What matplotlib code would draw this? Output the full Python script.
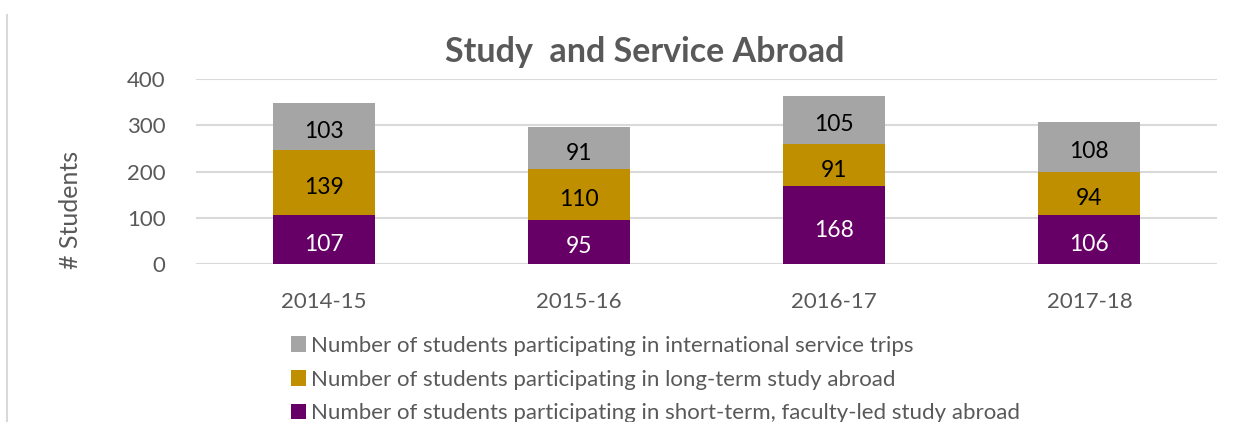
import numpy as np
import matplotlib.pyplot as plt
from matplotlib.lines import Line2D

plt.rcParams['font.family'] = ['Lato', 'DejaVu Sans']

years = ["2014-15", "2015-16", "2016-17", "2017-18"]
short_term = [107, 95, 168, 106]
long_term = [139, 110, 91, 94]
service = [103, 91, 105, 108]

lbl_short = "Number of students participating in short-term, faculty-led study abroad"
lbl_long = "Number of students participating in long-term study abroad"
lbl_serv = "Number of students participating in international service trips"

c_short = "#660066"
c_long = "#BF8F00"
c_serv = "#A5A5A5"
txt = "#595959"

fig = plt.figure(figsize=(12.53, 4.22), dpi=100)
ax = fig.add_axes([0.1564, 0.3744, 0.8149, 0.4384])

x = np.arange(len(years))
w = 0.40
b1 = ax.bar(x, short_term, w, color=c_short, label=lbl_short, zorder=3)
b2 = ax.bar(x, long_term, w, bottom=short_term, color=c_long, label=lbl_long, zorder=3)
bot3 = np.array(short_term) + np.array(long_term)
b3 = ax.bar(x, service, w, bottom=bot3, color=c_serv, label=lbl_serv, zorder=3)

labels = []
labels += ax.bar_label(b1, label_type='center', color='white', fontsize=16.5)
labels += ax.bar_label(b2, label_type='center', color='black', fontsize=16.5)
labels += ax.bar_label(b3, label_type='center', color='black', fontsize=16.5)
for t in labels:
    t.xyann = (0, -3.5)   # excel puts them a touch lower

ax.set_xlim(-0.5, 3.5)
ax.set_ylim(0, 400)
ax.set_yticks([0, 100, 200, 300, 400])
ax.set_xticks(x)
ax.set_xticklabels(years)
ax.tick_params(axis='both', length=0, labelsize=16, colors=txt)
ax.tick_params(axis='x', pad=20)
ax.tick_params(axis='y', pad=22)
ax.yaxis.grid(True, color="#D9D9D9", linewidth=1.5, zorder=0)
for s in ax.spines.values():
    s.set_visible(False)

fig.text(70/1253, 1 - 210/422, "# Students", rotation=90, ha='center', va='center',
         fontsize=18, color=txt)
fig.text(645/1253, 1 - 52/422, "Study  and Service Abroad", ha='center', va='center',
         fontsize=24.5, fontweight='bold', color=txt)

handles = [b3, b2, b1]
fig.legend(handles, [lbl_serv, lbl_long, lbl_short], loc='upper left',
           bbox_to_anchor=(282/1253, 1 - 327/422), frameon=False, fontsize=16,
           labelcolor=txt, handlelength=0.7, handleheight=0.7,
           handletextpad=0.2, labelspacing=0.62, borderaxespad=0)

fig.add_artist(Line2D([7/1253, 7/1253], [0, 1 - 15/422], transform=fig.transFigure,
                      color="#D9D9D9", linewidth=1.5))

fig.savefig("out.png", dpi=100)
